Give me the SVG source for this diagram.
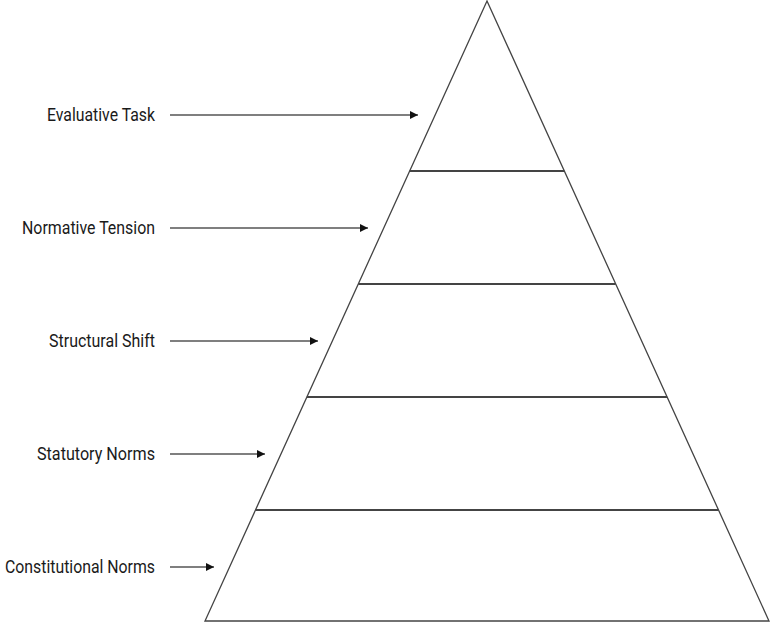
<svg xmlns="http://www.w3.org/2000/svg" width="770" height="623" viewBox="0 0 770 623">
<style>
.lbl{font-family:Roboto,"Liberation Sans",sans-serif;font-size:17.5px;fill:#1a1a1a;text-anchor:end;dominant-baseline:central}
.edge{fill:none;stroke:#555;stroke-width:1.5}
.outline{fill:#fff;stroke:#444;stroke-width:1.3}
.div{stroke:#444;stroke-width:2.2}
</style>
<defs>
<marker id="ah" viewBox="0 0 10 10" refX="10" refY="5" markerWidth="8" markerHeight="8" markerUnits="userSpaceOnUse" orient="auto">
<path d="M0,0 L10,5 L0,10 z" fill="#111"/>
</marker>
</defs>
<rect width="770" height="623" fill="#fff"/>
<g id="pyramid">
<polygon class="outline" points="487,1 205,621 769,621"/>
<line class="div" x1="409.7" y1="171" x2="564.3" y2="171"/>
<line class="div" x1="358.3" y1="284" x2="615.7" y2="284"/>
<line class="div" x1="306.9" y1="397" x2="667.1" y2="397"/>
<line class="div" x1="255.5" y1="510" x2="718.5" y2="510"/>
</g>
<g id="node-evaluative"><text class="lbl" x="155" y="115" textLength="108" lengthAdjust="spacingAndGlyphs">Evaluative Task</text></g>
<g id="node-normative"><text class="lbl" x="155" y="228" textLength="133" lengthAdjust="spacingAndGlyphs">Normative Tension</text></g>
<g id="node-structural"><text class="lbl" x="155" y="341" textLength="106" lengthAdjust="spacingAndGlyphs">Structural Shift</text></g>
<g id="node-statutory"><text class="lbl" x="155" y="454" textLength="118" lengthAdjust="spacingAndGlyphs">Statutory Norms</text></g>
<g id="node-constitutional"><text class="lbl" x="155" y="567" textLength="150" lengthAdjust="spacingAndGlyphs">Constitutional Norms</text></g>
<g id="connectors">
<line class="edge" x1="170" y1="115" x2="418" y2="115" marker-end="url(#ah)"/>
<line class="edge" x1="170" y1="228" x2="368" y2="228" marker-end="url(#ah)"/>
<line class="edge" x1="170" y1="341" x2="318" y2="341" marker-end="url(#ah)"/>
<line class="edge" x1="170" y1="454" x2="265" y2="454" marker-end="url(#ah)"/>
<line class="edge" x1="170" y1="567" x2="214" y2="567" marker-end="url(#ah)"/>
</g>
</svg>
